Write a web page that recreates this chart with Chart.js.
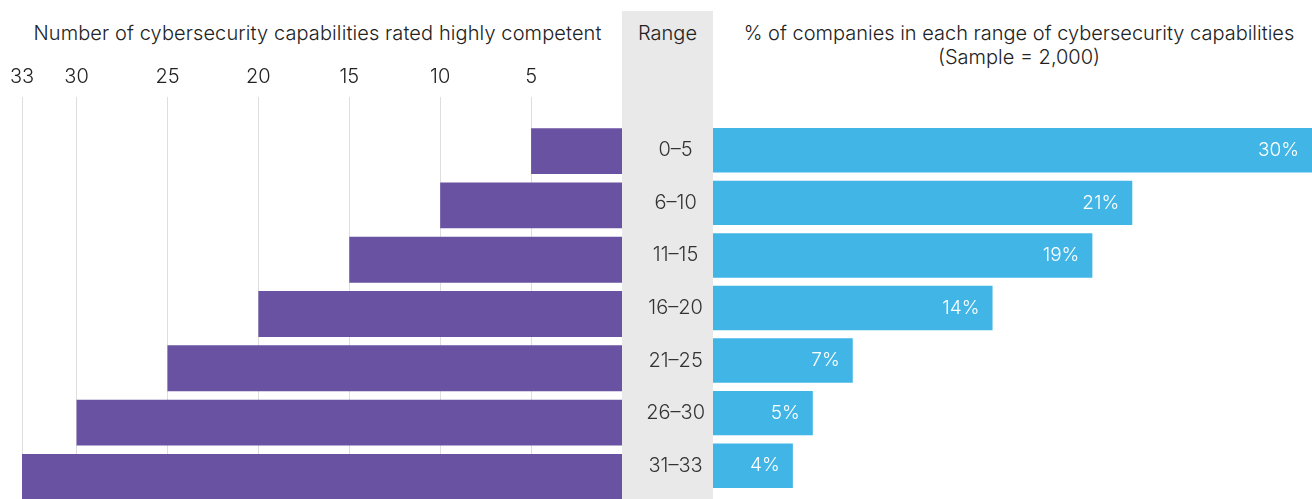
<!DOCTYPE html>
<html>
<head>
<meta charset="utf-8">
<script src="https://cdn.jsdelivr.net/npm/chart.js@4.4.1/dist/chart.umd.min.js"></script>
<style>
  html, body { margin: 0; padding: 0; background: #fff; overflow: hidden; }
  body { width: 1312px; height: 499px; position: relative; font-family: Inter, sans-serif; color: #222; }
  .band { position: absolute; left: 622px; top: 11px; width: 91px; height: 500px; background: #e9e9e9; }
  .head { position: absolute; top: 21px; font-size: 20px; font-weight: 300; line-height: 24px; text-align: center; white-space: nowrap; }
  #leftWrap { position: absolute; left: 0; top: 0; width: 622px; height: 504px; }
  #rightWrap { position: absolute; left: 622px; top: 0; width: 690px; height: 504px; }
</style>
</head>
<body>
<div class="band"></div>
<div class="head" style="left:0; width:635px; letter-spacing:0.1px;">Number of cybersecurity capabilities rated highly competent</div>
<div class="head" style="left:622px; width:91px;">Range</div>
<div class="head" style="left:726px; width:586px;">% of companies in each range of cybersecurity capabilities<br>(Sample = 2,000)</div>
<div id="leftWrap"><canvas id="leftChart"></canvas></div>
<div id="rightWrap"><canvas id="rightChart"></canvas></div>

<script>
// Data
const ranges = ['0–5', '6–10', '11–15', '16–20', '21–25', '26–30', '31–33'];
const capabilities = [5, 10, 15, 20, 25, 30, 33];
const shareOfCompanies = [30, 21, 19, 14, 7, 5, 4];
const capabilityTicks = [33, 30, 25, 20, 15, 10, 5];

const PURPLE = '#6a52a2';
const BLUE = '#41b6e6';
const GRID = '#dedede';
const FONT = { family: 'Inter', size: 20, weight: 300 };

// white % labels inside the end of each blue bar
const barValueLabels = {
    id: 'barValueLabels',
    afterDatasetsDraw(chart) {
        const ctx = chart.ctx;
        const meta = chart.getDatasetMeta(0);
        ctx.save();
        ctx.fillStyle = '#fff';
        ctx.font = '300 19px Inter';
        ctx.textAlign = 'right';
        ctx.textBaseline = 'middle';
        meta.data.forEach((bar, i) => {
            ctx.fillText(shareOfCompanies[i] + '%', bar.x - 13, bar.y);
        });
        ctx.restore();
    }
};

// Left chart: capabilities, growing to the left
new Chart(document.getElementById('leftChart'), {
    type: 'bar',
    data: {
        labels: ranges,
        datasets: [{
            data: capabilities,
            backgroundColor: PURPLE,
            barPercentage: 0.845,
            categoryPercentage: 1
        }]
    },
    options: {
        indexAxis: 'y',
        responsive: true,
        maintainAspectRatio: false,
        animation: false,
        layout: { padding: { left: 22, right: 0, top: 0, bottom: 0 } },
        plugins: { legend: { display: false }, tooltip: { enabled: false } },
        scales: {
            x: {
                position: 'top',
                reverse: true,
                min: 0,
                max: 33,
                afterBuildTicks: s => { s.ticks = capabilityTicks.map(v => ({ value: v })); },
                afterFit: s => { s.height = 124; },
                grid: { color: GRID, lineWidth: 1, drawTicks: true, tickLength: 27, tickColor: GRID },
                border: { display: false },
                ticks: { color: '#222', font: FONT, padding: 8, maxRotation: 0, autoSkip: false }
            },
            y: { display: false }
        }
    }
});

// Right chart: share of companies, range labels on its y axis
new Chart(document.getElementById('rightChart'), {
    type: 'bar',
    data: {
        labels: ranges,
        datasets: [{
            data: shareOfCompanies,
            backgroundColor: BLUE,
            barPercentage: 0.845,
            categoryPercentage: 1
        }]
    },
    options: {
        indexAxis: 'y',
        responsive: true,
        maintainAspectRatio: false,
        animation: false,
        layout: { padding: { left: 0, right: 0, top: 124, bottom: 0 } },
        plugins: { legend: { display: false }, tooltip: { enabled: false } },
        scales: {
            x: { display: false, min: 0, max: 30 },
            y: {
                afterFit: s => { s.width = 91; },
                grid: { display: false },
                border: { display: false },
                ticks: { color: '#333', font: FONT, padding: 0, crossAlign: 'center' }
            }
        }
    },
    plugins: [barValueLabels]
});
</script>
</body>
</html>
